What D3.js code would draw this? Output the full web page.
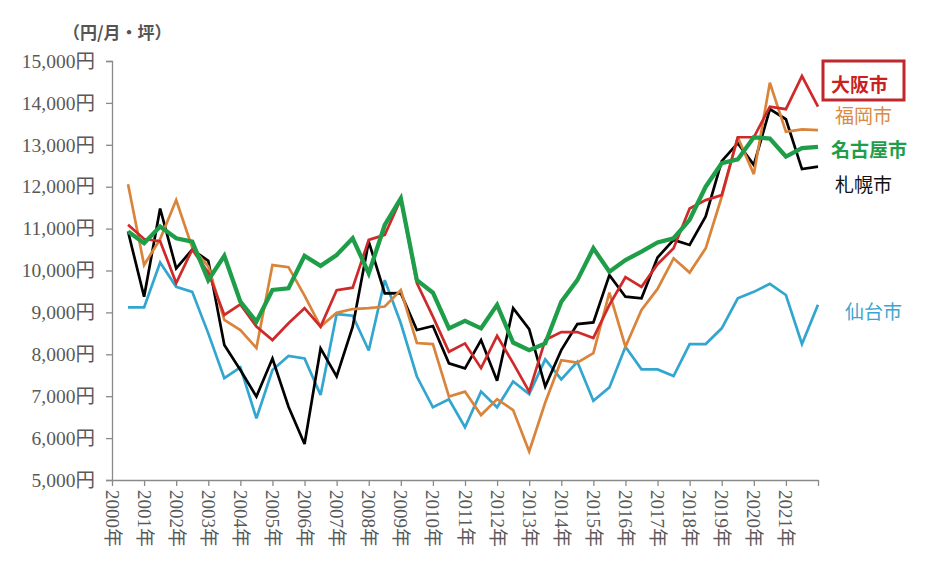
<!DOCTYPE html>
<html>
<head>
<meta charset="utf-8">
<script src="https://cdn.jsdelivr.net/npm/d3@7"></script>
<style>
  body { margin: 0; background: #fff; }
</style>
</head>
<body>
<div id="chart"></div>
<script>
// half-year periods, 2000 H2 .. 2021 H2
const periods = d3.range(2000.5, 2022.01, 0.5);
const yearTicks = d3.range(2000, 2023);
const yTicks = [5000, 6000, 7000, 8000, 9000, 10000, 11000, 12000, 13000, 14000, 15000];

// 円/月・坪
const sendai = [9120, 9120, 10190, 9610, 9490, 8500, 7430, 7690, 6470, 7625, 7960, 7900, 7030, 8960, 8920, 8090, 9770, 8740, 7470, 6735, 6925, 6260, 7110, 6735, 7350, 7050, 7880, 7400, 7820, 6890, 7210, 8180, 7640, 7640, 7480, 8245, 8245, 8620, 9335, 9490, 9680, 9415, 8245, 9180];
const sapporo = [10930, 9375, 11480, 10050, 10500, 10230, 8220, 7625, 6990, 7900, 6750, 5860, 8140, 7470, 8660, 10690, 9455, 9460, 8580, 8675, 7785, 7665, 8340, 7370, 9100, 8600, 7230, 8100, 8720, 8760, 9890, 9375, 9335, 10310, 10730, 10610, 11290, 12610, 13040, 12520, 13850, 13610, 12420, 12480];
const fukuoka = [12060, 10130, 10750, 11680, 10550, 10100, 8820, 8580, 8150, 10130, 10080, 9400, 8660, 8990, 9080, 9100, 9140, 9535, 8270, 8245, 6990, 7110, 6550, 6930, 6670, 5680, 6850, 7860, 7800, 8030, 9470, 8180, 9060, 9560, 10290, 9950, 10530, 11760, 13180, 12300, 14480, 13310, 13370, 13350];
const osaka = [11090, 10750, 10700, 9700, 10500, 9950, 8940, 9190, 8660, 8340, 8740, 9100, 8660, 9530, 9590, 10730, 10850, 11700, 9700, 8900, 8060, 8260, 7670, 8440, 7790, 7110, 8340, 8530, 8530, 8390, 9180, 9840, 9610, 10150, 10530, 11480, 11680, 11800, 13180, 13180, 13910, 13850, 14640, 13910];
const nagoya = [10930, 10650, 11050, 10770, 10690, 9770, 10350, 9255, 8780, 9535, 9575, 10350, 10110, 10370, 10770, 9930, 11086, 11720, 9770, 9470, 8620, 8800, 8620, 9180, 8280, 8100, 8260, 9255, 9770, 10530, 9970, 10250, 10450, 10670, 10770, 11210, 12000, 12560, 12650, 13180, 13150, 12720, 12920, 12950];

const series = [
  {name: "仙台市", values: sendai, color: "#33a6cf", width: 2.7},
  {name: "札幌市", values: sapporo, color: "#000000", width: 2.7},
  {name: "福岡市", values: fukuoka, color: "#d9843a", width: 2.7},
  {name: "大阪市", values: osaka, color: "#cf2a2a", width: 2.7},
  {name: "名古屋市", values: nagoya, color: "#1f9e4a", width: 4.3}
];

// legend labels placed at the right end of the lines
const labels = [
  {text: "大阪市", x: 831, y: 83, color: "#cc1f1f", bold: true, box: true},
  {text: "福岡市", x: 835, y: 114, color: "#d98a45", bold: false},
  {text: "名古屋市", x: 831, y: 148, color: "#1f9e4a", bold: true},
  {text: "札幌市", x: 835, y: 183, color: "#111111", bold: false},
  {text: "仙台市", x: 845, y: 310, color: "#3aa6d0", bold: false}
];

const width = 933, height = 567;
const margin = {top: 61, right: 115, bottom: 87, left: 112};

const svg = d3.select("#chart").append("svg")
  .attr("width", width)
  .attr("height", height);

const x = d3.scaleLinear()
  .domain([2000, 2022])
  .range([margin.left, width - margin.right]);
const y = d3.scaleLinear()
  .domain([5000, 15000])
  .range([height - margin.bottom, margin.top]);

const axisColor = "#8a8a8a";
const tickText = "#595959";
const serif = "'Liberation Serif', 'Times New Roman', 'Noto Sans CJK JP', serif";

// y axis
const yAxis = svg.append("g")
  .attr("transform", "translate(" + margin.left + ",0)")
  .call(d3.axisLeft(y).tickValues(yTicks).tickSize(6).tickPadding(11)
    .tickFormat(d => d3.format(",")(d) + "円"));
yAxis.select(".domain").attr("stroke", axisColor).attr("stroke-width", 1.3);
yAxis.selectAll(".tick line").attr("stroke", axisColor).attr("stroke-width", 1.3);
yAxis.selectAll(".tick text")
  .attr("fill", tickText)
  .style("font-family", serif)
  .style("font-size", "19.5px");

// x axis
const xAxis = svg.append("g")
  .attr("transform", "translate(0," + y(5000) + ")")
  .call(d3.axisBottom(x).tickValues(yearTicks).tickSize(6).tickSizeOuter(0).tickFormat(""));
xAxis.select(".domain").attr("stroke", axisColor).attr("stroke-width", 1.3);
xAxis.selectAll(".tick line").attr("stroke", axisColor).attr("stroke-width", 1.3);

// rotated year labels (last tick has no label)
svg.append("g").selectAll("text")
  .data(yearTicks.slice(0, -1))
  .join("text")
  .attr("transform", d => "translate(" + x(d) + "," + (y(5000) + 10) + ") rotate(90)")
  .attr("dominant-baseline", "central")
  .attr("fill", tickText)
  .style("font-family", serif)
  .style("font-size", "19px")
  .text(d => d + "年");

// unit label
svg.append("text")
  .attr("x", 63)
  .attr("y", 39)
  .attr("fill", "#555555")
  .style("font-family", "'Noto Sans CJK JP', sans-serif")
  .style("font-weight", "bold")
  .style("font-size", "17px")
  .text("（円/月・坪）");

// lines
const line = d3.line()
  .x((d, i) => x(periods[i]))
  .y(d => y(d));

svg.append("g").selectAll("path")
  .data(series)
  .join("path")
  .attr("d", s => line(s.values))
  .attr("fill", "none")
  .attr("stroke", s => s.color)
  .attr("stroke-width", s => s.width)
  .attr("stroke-linejoin", "miter")
  .attr("stroke-miterlimit", 3);

// labels
const lg = svg.append("g");
lg.selectAll("rect")
  .data(labels.filter(d => d.box))
  .join("rect")
  .attr("x", 823)
  .attr("y", 61)
  .attr("width", 81)
  .attr("height", 39)
  .attr("fill", "none")
  .attr("stroke", "#c0272d")
  .attr("stroke-width", 3);
lg.selectAll("text")
  .data(labels)
  .join("text")
  .attr("x", d => d.x)
  .attr("y", d => d.y)
  .attr("dominant-baseline", "central")
  .attr("fill", d => d.color)
  .style("font-family", "'Noto Sans CJK JP', sans-serif")
  .style("font-weight", d => d.bold ? "bold" : "normal")
  .style("font-size", "19px")
  .text(d => d.text);
</script>
</body>
</html>
